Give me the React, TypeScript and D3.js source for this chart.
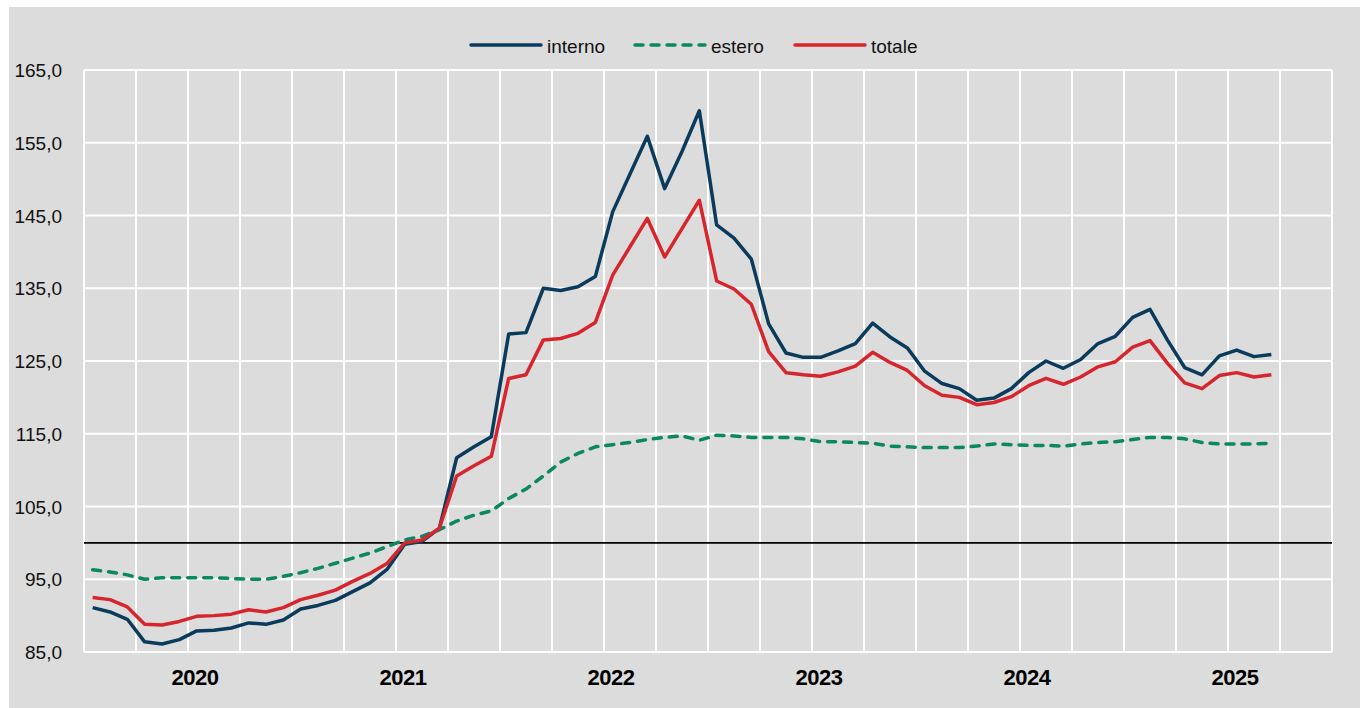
import React from 'react';
import * as d3 from 'd3';

// monthly index values, Jan 2020 .. Sep 2025
const years = [2020, 2021, 2022, 2023, 2024, 2025];

const interno = [
  91.1, 90.5, 89.5, 86.4, 86.1, 86.7, 87.9, 88.0, 88.3, 89.0, 88.8, 89.4,
  90.9, 91.4, 92.1, 93.3, 94.5, 96.4, 99.8, 100.2, 102.0, 111.7, 113.2, 114.6,
  128.7, 128.9, 135.0, 134.7, 135.2, 136.6, 145.5, 150.7, 155.9, 148.7, 153.8, 159.4,
  143.7, 141.9, 139.0, 130.1, 126.1, 125.5, 125.5, 126.4, 127.4, 130.2, 128.3, 126.8,
  123.6, 121.9, 121.2, 119.6, 119.9, 121.2, 123.4, 125.0, 124.0, 125.2, 127.4, 128.4,
  131.0, 132.1, 127.9, 124.1, 123.1, 125.7, 126.5, 125.6, 125.9,
];

const estero = [
  96.3, 96.0, 95.6, 95.0, 95.2, 95.2, 95.2, 95.2, 95.1, 95.0, 95.0, 95.4,
  95.9, 96.5, 97.2, 97.9, 98.6, 99.5, 100.4, 100.9, 101.8, 103.0, 103.8, 104.4,
  106.1, 107.4, 109.2, 111.1, 112.3, 113.2, 113.5, 113.8, 114.2, 114.5, 114.7, 114.1,
  114.8, 114.7, 114.5, 114.5, 114.5, 114.3, 113.9, 113.9, 113.8, 113.7, 113.3, 113.2,
  113.1, 113.1, 113.1, 113.3, 113.6, 113.5, 113.4, 113.4, 113.3, 113.6, 113.8, 113.9,
  114.2, 114.5, 114.5, 114.3, 113.8, 113.6, 113.6, 113.6, 113.7,
];

const totale = [
  92.5, 92.2, 91.2, 88.8, 88.7, 89.2, 89.9, 90.0, 90.2, 90.8, 90.5, 91.1,
  92.2, 92.8, 93.5, 94.7, 95.8, 97.2, 100.0, 100.4, 102.0, 109.2, 110.6, 111.9,
  122.6, 123.1, 127.9, 128.1, 128.8, 130.3, 136.8, 140.7, 144.6, 139.3, 143.2, 147.1,
  136.0, 134.9, 132.8, 126.3, 123.4, 123.1, 122.9, 123.5, 124.3, 126.2, 124.8, 123.7,
  121.6, 120.3, 120.0, 119.0, 119.3, 120.1, 121.6, 122.6, 121.8, 122.8, 124.2, 124.9,
  126.9, 127.8, 124.7, 122.0, 121.2, 123.0, 123.4, 122.8, 123.1,
];

const yTicks = [85, 95, 105, 115, 125, 135, 145, 155, 165];

const series = [
  { name: 'interno', values: interno, color: '#0b3b5c', dash: undefined as string | undefined },
  { name: 'estero', values: estero, color: '#0b8762', dash: '8,8' },
  { name: 'totale', values: totale, color: '#d7252d', dash: undefined as string | undefined },
];

const W = 1360;
const H = 708;
const left = 84;
const right = 1332;
const top = 70;
const bottom = 652;
const font = '"Liberation Sans", Arial, sans-serif';

export default function App() {
  const nMonths = years.length * 12;
  const x = d3.scaleLinear().domain([0, nMonths]).range([left, right]);
  const y = d3.scaleLinear().domain([85, 165]).range([bottom, top]);
  const band = x(1) - x(0);
  const fmt = (v: number) => v.toFixed(1).replace('.', ',');

  const line = d3.line<number>()
    .x((_, i) => x(i + 0.5))
    .y(d => y(d));

  const legendX = [471, 635, 795];

  return (
    <div style={{ position: 'absolute', left: 0, top: 0 }}>
      <svg width={W} height={H} style={{ display: 'block' }}>
        <rect x={0} y={0} width={W} height={H} fill="#ffffff" />
        <rect x={9} y={7} width={W - 9} height={H - 7} fill="#dcdcdc" />

        {/* vertical grid, quarterly */}
        {d3.range(0, nMonths + 1, 3).map(m => (
          <line key={'v' + m} x1={x(m)} x2={x(m)} y1={top} y2={bottom} stroke="#ffffff" strokeWidth={2} />
        ))}
        {yTicks.map(t => (
          <line key={'h' + t} x1={left} x2={right} y1={y(t)} y2={y(t)} stroke="#ffffff" strokeWidth={2} />
        ))}

        <line x1={left} x2={right} y1={y(100)} y2={y(100)} stroke="#000000" strokeWidth={1.8} />

        {series.map(s => (
          <path
            key={s.name}
            d={line(s.values) ?? ''}
            fill="none"
            stroke={s.color}
            strokeWidth={3.5}
            strokeDasharray={s.dash}
            strokeLinecap={s.dash ? 'round' : 'butt'}
            strokeLinejoin="round"
          />
        ))}

        {yTicks.map(t => (
          <text key={'yl' + t} x={62} y={y(t) + 7} textAnchor="end" fontFamily={font} fontSize={19} fill="#111">
            {fmt(t)}
          </text>
        ))}

        {years.map((yr, k) => (
          <text
            key={yr}
            x={x(k * 12 + 6) + band * 0.4}
            y={685}
            textAnchor="middle"
            fontFamily={font}
            fontSize={22}
            fontWeight="bold"
            letterSpacing={-0.5}
            fill="#000"
          >
            {yr}
          </text>
        ))}

        {series.map((s, i) => (
          <g key={'lg' + s.name} transform={`translate(${legendX[i]},45)`}>
            <line
              x1={0}
              x2={70}
              y1={0}
              y2={0}
              stroke={s.color}
              strokeWidth={3.5}
              strokeDasharray={s.dash}
              strokeLinecap="round"
            />
            <text x={76} y={8} fontFamily={font} fontSize={19} fill="#111">
              {s.name}
            </text>
          </g>
        ))}
      </svg>
    </div>
  );
}
